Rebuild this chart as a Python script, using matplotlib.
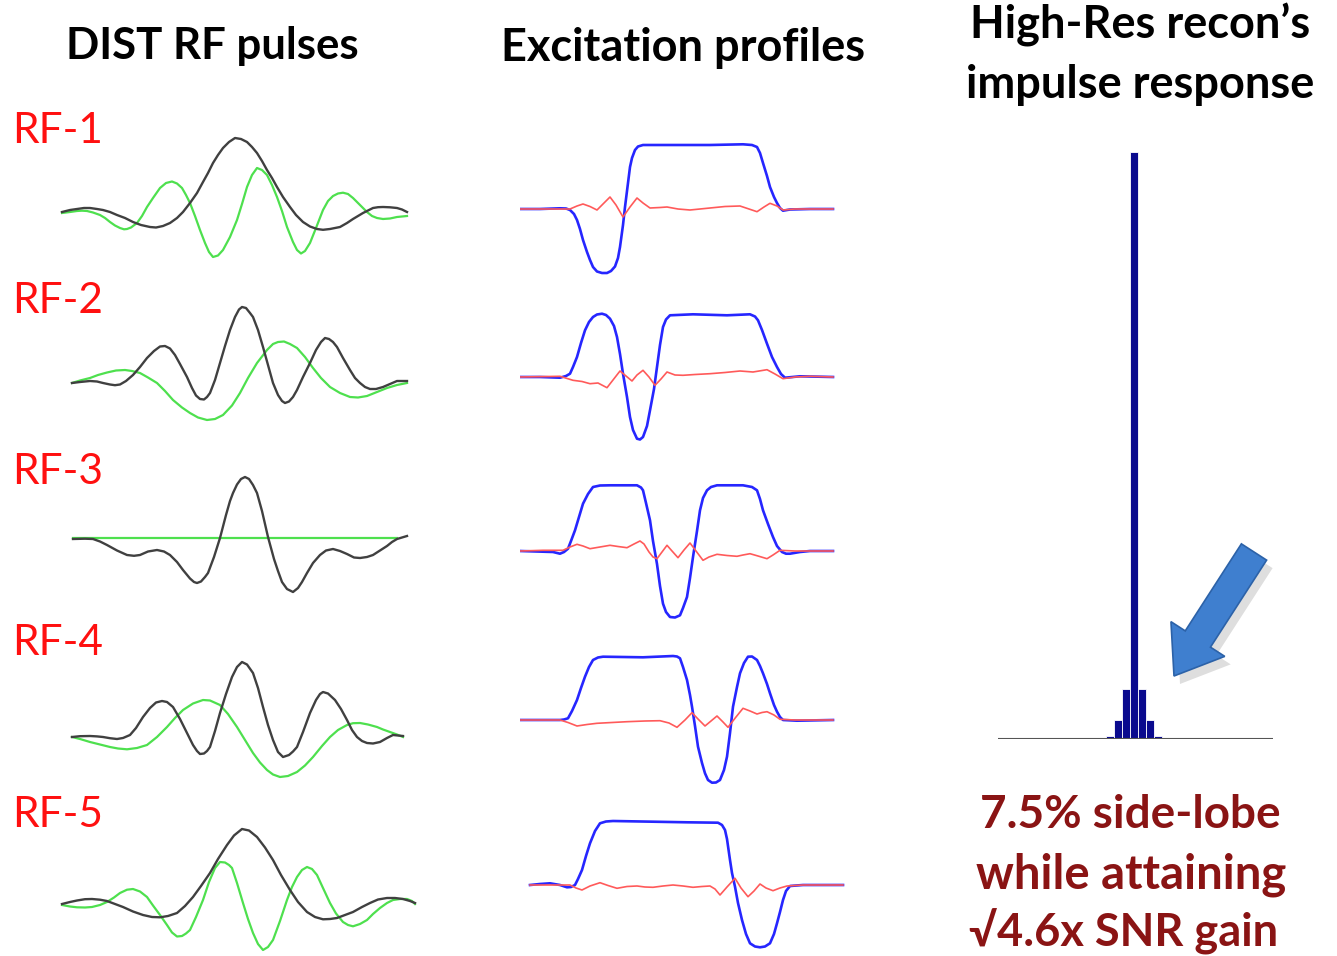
import matplotlib
matplotlib.use("Agg")
import matplotlib.pyplot as plt
from matplotlib.patches import FancyArrow

# ---- DIST RF pulses (t in samples, amplitude in arbitrary units) ----
# black = real part, green = imaginary part
rf1_re_t = [2, 10, 17, 24, 30, 37, 43, 50, 57, 65, 73, 81, 90, 96, 103, 110, 117, 123, 130, 137, 143, 148, 153, 158, 163, 169, 175, 181, 187, 192, 197, 202, 207, 212, 217, 223, 230, 236, 243, 250, 257, 263, 270, 275, 280, 287, 293, 298, 303, 308, 313, 318, 323, 330, 337, 342, 347]
rf1_re = [-1, 1, 2, 3, 3, 2, 1, -1, -4, -7, -11, -14, -16, -16.5, -15, -12, -7, -1, 8, 18, 29, 38, 48, 56, 63, 69, 73, 72, 69, 64, 58, 50, 41, 33, 24, 14, 4, -4, -11, -15.5, -18, -18.8, -18, -17, -16, -12, -8, -5, -2, 0.5, 3, 3.8, 4, 3.7, 3, 1.5, -1]
rf1_im_t = [2, 10, 17, 22, 27, 33, 40, 45, 50, 55, 60, 64, 67, 71, 77, 82, 87, 93, 100, 106, 112, 117, 122, 126, 130, 135, 140, 145, 149, 153, 158, 163, 170, 177, 182, 187, 192, 197, 202, 207, 212, 217, 222, 227, 233, 237, 241, 245, 250, 256, 263, 268, 273, 278, 283, 288, 293, 300, 307, 312, 317, 323, 330, 337, 347]
rf1_im = [-2, -1, 0, 0.3, 0, -1.5, -4, -7, -11, -14.5, -17, -18.3, -18, -16.5, -12, -5, 4, 13, 23, 28, 29.5, 27.5, 23, 16, 8, -5, -19, -32, -41, -46, -44.5, -39, -26, -9, 7, 24, 36, 43, 41, 36, 26, 14, 0, -16, -31, -39, -42.5, -40, -32, -17, 1, 10, 15, 17.5, 18.3, 17, 13, 6, -1, -5, -7, -8, -7.5, -6, -5]

rf2_re_t = [12, 20, 30, 37, 43, 50, 55, 60, 66, 73, 80, 87, 94, 100, 105, 110, 115, 120, 127, 132, 136, 140, 144, 147, 150, 155, 160, 165, 170, 175, 179, 182, 186, 190, 193, 198, 203, 208, 213, 218, 222, 225, 229, 233, 237, 243, 250, 256, 261, 265, 269, 273, 277, 283, 290, 295, 300, 305, 310, 316, 323, 330, 337, 347]
rf2_re = [-1, 0, 1, 0.5, -1, -2.5, -3.2, -2.5, 1, 7, 15, 24, 31, 35.5, 36, 33.5, 27, 18, 5, -6, -13.5, -17, -17.5, -15, -11, 2, 19, 36, 52, 65, 72.5, 75, 74, 69, 65, 52, 35, 17, -1, -13, -19, -21, -19.5, -15, -8, 5, 19, 32, 40, 44, 43, 40, 35, 24, 12, 4, -1, -5, -7, -7, -5, -2, 1, 1]
rf2_im_t = [12, 20, 30, 38, 47, 56, 65, 72, 80, 88, 97, 105, 113, 122, 130, 138, 147, 155, 163, 172, 180, 188, 197, 207, 213, 218, 224, 230, 237, 245, 253, 261, 270, 280, 290, 298, 307, 317, 327, 337, 347]
rf2_im = [-1, 1.5, 4, 7, 9.5, 11.5, 12, 11, 9, 4.5, -1, -9, -18, -25.5, -31, -35.5, -38, -37, -33, -23.5, -11, 4, 19, 32, 38, 40, 40.5, 38, 34, 25, 14, 4, -5, -11, -15, -15.5, -14, -10, -6, -3, -1]

rf3_re_t = [13, 25, 33, 40, 47, 57, 67, 74, 80, 88, 97, 104, 110, 117, 123, 130, 134, 137, 141, 145, 148, 154, 160, 166, 170, 173, 177, 181, 185, 189, 193, 197, 202, 208, 214, 218, 222, 227, 233, 238, 242, 247, 253, 260, 266, 273, 280, 287, 294, 300, 307, 313, 320, 327, 332, 337, 347]
rf3_re = [-1, -0.7, -1, -3.5, -7, -12.5, -17, -17.8, -17, -13.5, -12, -13.5, -17, -24, -32, -40.5, -44, -45, -43.5, -39, -35, -19, 0, 23, 37, 45, 53.5, 59, 61, 59, 53, 45, 27, 1, -21, -33, -44, -51, -54, -50, -44, -35, -25, -17, -12.5, -11, -13, -16, -19.5, -20, -19, -17, -12.5, -8, -4, -1, 2]
rf3_im_t = [13, 337]
rf3_im = [0, 0]

rf4_re_t = [12, 20, 30, 37, 43, 50, 57, 63, 70, 76, 83, 90, 96, 102, 107, 113, 120, 127, 133, 137, 140, 144, 147, 150, 155, 160, 166, 172, 177, 182, 187, 193, 198, 203, 208, 213, 218, 223, 229, 233, 237, 243, 250, 256, 260, 263, 268, 275, 281, 287, 292, 297, 302, 307, 313, 320, 327, 333, 343]
rf4_re = [0, 0.8, 1, 0.6, 0, -1.2, -2, -1, 2, 9, 20, 29, 34.5, 36, 35, 30, 18, 4, -8, -14, -17, -16.5, -14, -10, 6, 24, 43, 60, 70, 75, 72.5, 64, 49, 30, 12, -3, -15, -20, -18, -14.5, -10, 5, 24, 37, 43, 45, 43.5, 37, 28, 17, 7, 0, -4, -6, -6.5, -5, -1, 2, 1]
rf4_im_t = [12, 20, 30, 40, 50, 58, 67, 77, 87, 97, 107, 115, 123, 133, 143, 150, 160, 168, 177, 185, 193, 200, 207, 213, 220, 228, 237, 245, 253, 262, 270, 278, 287, 293, 300, 308, 317, 323, 330, 337, 343]
rf4_im = [0, -2, -5, -7.5, -10, -11.5, -12.3, -11, -8, 0, 10, 19, 27, 33.5, 37, 36.5, 32, 23, 10, -3, -16, -25.5, -33, -37.5, -40, -39, -35, -28.5, -20, -9, 0, 7, 12, 13.8, 14, 12.5, 10, 7.5, 5, 2.5, 0]

rf5_re_t = [2, 10, 17, 25, 32, 40, 47, 55, 63, 73, 83, 92, 100, 108, 117, 125, 133, 141, 150, 158, 167, 174, 182, 189, 197, 205, 213, 221, 230, 238, 247, 255, 263, 270, 277, 285, 293, 302, 310, 318, 327, 335, 343, 350, 355]
rf5_re = [0, 2, 3.5, 4.8, 5, 4.3, 3, 0, -3, -7.5, -11, -13, -13.3, -12, -9, -2, 7, 18, 31, 45, 59, 68.5, 75, 73.5, 67, 56.5, 44, 29, 14, 2, -8, -13, -15.3, -15, -14, -11, -8, -3, 1, 4.5, 6, 6, 5, 3, 1]
rf5_im_t = [2, 10, 17, 25, 32, 40, 47, 54, 60, 67, 73, 80, 87, 93, 100, 107, 112, 117, 122, 126, 130, 136, 143, 149, 155, 160, 165, 169, 172, 177, 183, 188, 193, 198, 203, 208, 213, 220, 227, 232, 237, 242, 247, 252, 257, 263, 270, 276, 283, 288, 293, 300, 307, 313, 320, 327, 333, 340, 347, 352, 355]
rf5_im = [-1, -2.5, -3.3, -3.5, -3, -1, 2, 6.5, 11, 14.3, 15, 12.5, 7, -1.5, -11, -21, -28.5, -32.5, -32, -29.5, -26, -13, 4, 22, 36, 42, 41.5, 39, 36, 21, 1, -15, -29, -40, -46, -43, -36, -17, 4, 17, 27, 34, 37, 35, 29, 16, 1, -9.5, -18, -21, -22.3, -20, -16, -10, -4, 1, 4, 5, 5, 3, 0]

# ---- Excitation profiles (u = position, blue = Mx, red = My) ----
p1_mx_u = [0, 20, 40, 46, 50, 54, 57, 60, 63, 67, 70, 73, 77, 82, 87, 91, 95, 98, 100, 103, 105, 108, 110, 112, 115, 118, 123, 157, 190, 223, 232, 237, 240, 243, 247, 250, 254, 257, 260, 263, 270, 290, 313]
p1_mx = [0, 0, 0.7, 0.5, -1, -5, -11, -20, -31, -43, -51, -58, -62.5, -64, -64, -62, -57.5, -49, -38, -16, 2, 26, 42, 51, 59, 62.5, 64, 64, 64, 64.7, 64, 62, 56, 46, 33, 22, 12, 6, 1, -1.7, -0.5, 0, 0]
p1_my_u = [0, 50, 57, 63, 70, 77, 83, 90, 96, 103, 110, 117, 123, 130, 140, 147, 158, 170, 180, 190, 205, 220, 229, 237, 244, 250, 257, 263, 275, 290, 313]
p1_my = [0, 0, 3, 5, 2.5, -1, 5, 12, 4, -8, 2, 11, 6, 1, 1.5, 2, 0, -1, 0, 1, 2.5, 3, 0, -2.7, 2, 5.7, 3, -1, 0, 0, 0]

p2_mx_u = [0, 20, 40, 46, 50, 53, 57, 61, 65, 69, 73, 77, 82, 86, 90, 94, 97, 100, 103, 107, 110, 113, 117, 120, 123, 127, 130, 134, 137, 140, 143, 146, 150, 173, 207, 230, 235, 238, 242, 247, 252, 257, 261, 265, 280, 313]
p2_mx = [0, 0, -0.7, 1, 3.3, 10, 20, 34, 46.7, 55, 60, 62.5, 63.3, 62, 58.3, 51, 40, 23, 3.3, -20, -40, -53, -61.7, -62.5, -60, -49, -33.3, -12, 10, 32, 50, 57.5, 61.7, 62.7, 61.7, 62.7, 60.5, 56.7, 47, 33.3, 20, 10, 3, -0.7, 0.7, 0]
p2_my_u = [0, 40, 53, 62, 70, 78, 87, 93, 100, 106, 112, 117, 123, 129, 135, 141, 147, 155, 163, 175, 190, 205, 220, 233, 247, 255, 263, 275, 290, 313]
p2_my = [0, 0.7, -3.3, -4.5, -6.7, -6, -10.7, -3, 6, 1, -4, 2, 6.7, 0, -8.3, -2, 5, 2, 1.7, 2.5, 3.3, 4.5, 6, 5, 7.3, 3, -1.7, 0, 0.7, 0]

p3_mx_u = [0, 33, 40, 44, 48, 51, 55, 59, 63, 68, 73, 80, 90, 117, 121, 123, 126, 130, 133, 137, 140, 143, 146, 150, 155, 160, 163, 167, 170, 173, 177, 180, 183, 187, 191, 197, 223, 232, 237, 240, 243, 248, 253, 257, 262, 266, 270, 280, 290, 313]
p3_mx = [0, -1, -2.7, -1, 2.3, 10, 20.7, 34, 47.3, 57, 64, 65.5, 65.7, 65.7, 63.5, 60.7, 48, 30.7, 10, -13, -35, -52.7, -61, -66, -66.5, -64.3, -57, -46, -27, -6, 20, 40.7, 53, 60.7, 64, 65.7, 65.7, 64, 60.7, 52, 40.7, 27, 14, 5, -1, -2.7, -2.7, -1, 0, 0]
p3_my_u = [0, 23, 43, 50, 57, 63, 70, 80, 90, 98, 107, 114, 120, 124, 129, 133, 137, 142, 147, 152, 158, 164, 170, 176, 183, 189, 197, 207, 217, 223, 230, 238, 247, 253, 260, 275, 290, 313]
p3_my = [0, 0.7, 0.7, 4, 6.7, 5, 2.3, 4, 5.7, 4.5, 3.3, 7, 10, 7, -1, -6, -7.7, -1, 5.7, 0, -6.7, 1, 8, 0, -9.3, -6, -3.3, -4.5, -5.3, -4, -2.7, -5, -7.7, -4, 0.7, 0, 0, 0]

p4_mx_u = [0, 40, 44, 48, 52, 57, 61, 65, 69, 73, 78, 83, 123, 153, 157, 160, 163, 167, 170, 172, 175, 178, 182, 185, 188, 192, 196, 200, 204, 207, 210, 213, 217, 220, 224, 228, 232, 237, 240, 243, 247, 250, 254, 257, 260, 263, 277, 313]
p4_mx = [0, 0, 0.5, 1.7, 9, 20, 32, 43.3, 53, 60, 62.5, 63.3, 62.7, 64, 63.5, 61.7, 53, 40, 25, 13.3, -6, -26.7, -43, -53.3, -60, -62.7, -62.5, -60, -50, -36.7, -13, 13.3, 33, 46.7, 57, 63.3, 63.5, 60, 54, 46.7, 36, 26.7, 15, 8.3, 3, 0, -0.7, 0]
p4_my_u = [0, 40, 48, 57, 67, 77, 92, 107, 125, 140, 149, 157, 165, 172, 178, 185, 191, 197, 203, 208, 216, 223, 230, 237, 242, 247, 254, 260, 275, 290, 313]
p4_my = [0, 0, -2.5, -6, -4.5, -3.3, -2.5, -1.7, -1, -0.7, -3, -7.3, 0, 7.3, 1, -6, -1, 4, -2, -7.3, 3, 11.7, 9, 6, 7.5, 8.3, 5, 0.7, 0, 0, 0]

p5_mx_u = [10, 20, 30, 40, 47, 51, 55, 58, 62, 66, 70, 75, 80, 86, 93, 133, 167, 198, 202, 205, 207, 210, 212, 215, 218, 222, 226, 230, 235, 240, 245, 250, 254, 257, 260, 263, 266, 270, 283, 323]
p5_mx = [0, 1, 1.7, 0, -2.3, -2, 0, 6, 15, 29, 41.7, 54, 61.7, 63.5, 64, 63.3, 62.7, 62.3, 60, 55, 46, 25, 12, -1.7, -18, -35, -49, -58.3, -61.5, -62.3, -61.5, -58.3, -49, -38.3, -27, -15, -6, -1, 0, 0]
p5_my_u = [10, 50, 56, 62, 70, 80, 88, 97, 107, 117, 125, 133, 143, 153, 163, 173, 182, 190, 195, 200, 207, 215, 221, 228, 234, 240, 246, 253, 260, 267, 283, 323]
p5_my = [0, 0, -3, -5, -1, 2.3, -0.5, -3.3, -1.5, -1, -2, -2.3, -1, 0, -1, -2.3, -1.5, -1, -4, -10, -2, 6.7, -3, -11.7, -6, 1, -3, -5.7, -3, -1, 0, 0]

# ---- High-res recon impulse response ----
imp_idx = [-3, -2, -1, 0, 1, 2, 3]
imp_val = [0.005, 0.032, 0.085, 1.0, 0.085, 0.032, 0.005]

rf_labels = ["RF-1", "RF-2", "RF-3", "RF-4", "RF-5"]
rf_t = [rf1_re_t, rf2_re_t, rf3_re_t, rf4_re_t, rf5_re_t]
rf_re = [rf1_re, rf2_re, rf3_re, rf4_re, rf5_re]
rf_it = [rf1_im_t, rf2_im_t, rf3_im_t, rf4_im_t, rf5_im_t]
rf_im = [rf1_im, rf2_im, rf3_im, rf4_im, rf5_im]
p_mx_u = [p1_mx_u, p2_mx_u, p3_mx_u, p4_mx_u, p5_mx_u]
p_mx = [p1_mx, p2_mx, p3_mx, p4_mx, p5_mx]
p_my_u = [p1_my_u, p2_my_u, p3_my_u, p4_my_u, p5_my_u]
p_my = [p1_my, p2_my, p3_my, p4_my, p5_my]

W, H = 1337, 956
fig = plt.figure(figsize=(W / 100, H / 100), dpi=100)
fig.patch.set_facecolor("white")


def px_axes(left, top, width, height):
    return fig.add_axes([left / W, 1 - (top + height) / H, width / W, height / H])


rf_base = [211, 382, 538, 737, 904]
pr_base = [209, 377, 551, 720, 885]
label_y = [131, 301, 472, 643, 815]

for i in range(5):
    ax = px_axes(60, rf_base[i] - 80, 360, 160)
    ax.plot(rf_it[i], rf_im[i], color="#4ee04e", lw=1.6, solid_joinstyle="round")
    ax.plot(rf_t[i], rf_re[i], color="#404040", lw=1.7, solid_joinstyle="round")
    ax.set_xlim(0, 360)
    ax.set_ylim(-80, 80)
    ax.axis("off")

    ax = px_axes(520, pr_base[i] - 80, 330, 160)
    ax.plot(p_mx_u[i], p_mx[i], color="#2626ff", lw=1.9, solid_joinstyle="round")
    ax.plot(p_my_u[i], p_my[i], color="#ff5a5a", lw=1.2, solid_joinstyle="round")
    ax.set_xlim(0, 330)
    ax.set_ylim(-80, 80)
    ax.axis("off")

# impulse response
ax = px_axes(998, 152, 275, 587)
ax.bar(imp_idx, imp_val, width=1.0, color="#0a0a8e", edgecolor="white", linewidth=0.6)
ax.axhline(0, color="#555555", lw=1.5)
ax.set_xlim(-17, 17.4)
ax.set_ylim(0, 1)
ax.axis("off")

# overlay for text and arrow
ov = fig.add_axes([0, 0, 1, 1])
ov.set_xlim(0, W)
ov.set_ylim(H, 0)
ov.axis("off")

fam = ["Lato", "DejaVu Sans"]
ov.text(212, 46, "DIST RF pulses", ha="center", va="center", fontsize=31.5, fontweight="bold", family=fam)
ov.text(683, 48, "Excitation profiles", ha="center", va="center", fontsize=32.5, fontweight="bold", family=fam)
ov.text(1140, 25, "High-Res recon\u2019s", ha="center", va="center", fontsize=32.5, fontweight="bold", family=fam)
ov.text(1140, 85, "impulse response", ha="center", va="center", fontsize=32.5, fontweight="bold", family=fam)

for lab, y in zip(rf_labels, label_y):
    ov.text(12, y, lab, ha="left", va="center", fontsize=30.5, color="#ff1010", family=fam)

dred = "#8a1414"
ov.text(1130, 815, "7.5% side-lobe", ha="center", va="center", fontsize=33, fontweight="bold", color=dred, family=fam)
ov.text(1131, 875, "while attaining", ha="center", va="center", fontsize=34, fontweight="bold", color=dred, family=fam)
ov.text(1124, 932, "\u221a4.6x SNR gain", ha="center", va="center", fontsize=32.5, fontweight="bold", color=dred, family=fam)

# blue arrow pointing at the side lobes
ov.add_patch(FancyArrow(1260, 560, -80, 124, width=30, head_width=64, head_length=44,
                        length_includes_head=True, facecolor="#000000", edgecolor="none", alpha=0.13))
ov.add_patch(FancyArrow(1254, 552, -80, 124, width=30, head_width=64, head_length=44,
                        length_includes_head=True, facecolor="#3f7fcf", edgecolor="#2c62a8", lw=1.2))

fig.savefig("out.png", dpi=100)
